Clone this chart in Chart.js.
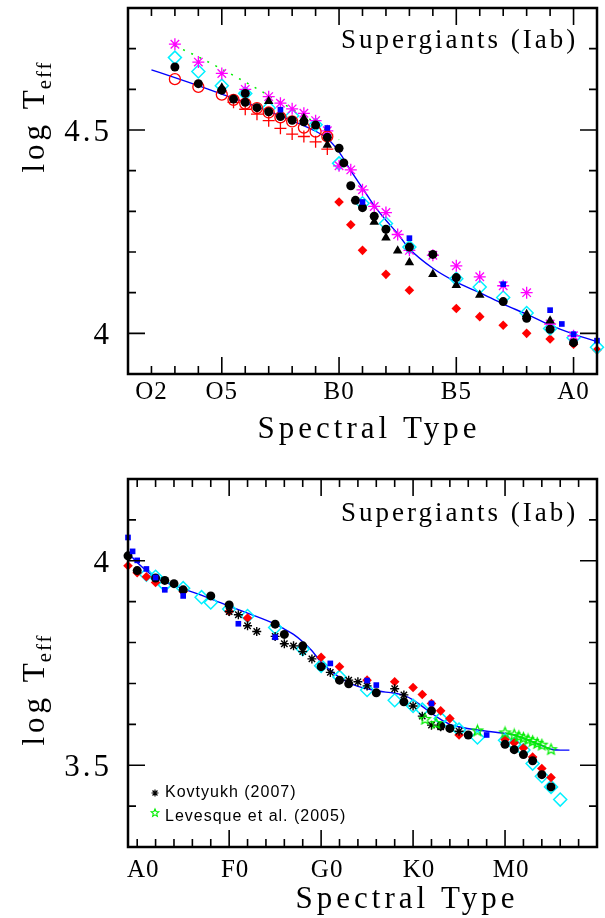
<!DOCTYPE html>
<html lang="en">
<head>
<meta charset="utf-8" />
<script src="https://cdn.jsdelivr.net/npm/chart.js@4.4.0/dist/chart.umd.min.js"></script>
<style>
  body { margin: 0; background: #fff; }
  #wrap { position: relative; width: 605px; height: 918px; }
  canvas { position: absolute; left: 0; }
</style>
<title>Supergiants (Iab)</title>
</head>
<body>
<div id="wrap">
  <canvas id="topChart" width="605" height="455" style="top:0"></canvas>
  <canvas id="bottomChart" width="605" height="463" style="top:455px"></canvas>
</div>
<script>
// spectral type as a number: top panel O0 = 0, B0 = 10, A0 = 20; bottom panel A0 = 0, F0 = 10, G0 = 20, K0 = 30, M0 = 40
const topTickPos = [2, 5, 10, 15, 20];
const topTickLabels = ['O2', 'O5', 'B0', 'B5', 'A0'];
const topYTickPos = [4, 4.5];
const topYTickLabels = ['4', '4.5'];
const bottomTickPos = [0, 10, 20, 30, 40];
const bottomTickLabels = ['A0', 'F0', 'G0', 'K0', 'M0'];
const bottomYTickPos = [3.5, 4];
const bottomYTickLabels = ['3.5', '4'];

// ---- top panel (O and B supergiants)
const topFitX = [2, 3, 4, 5, 6, 7, 8, 9, 9.5, 10, 10.5, 11, 11.5, 12, 12.5, 13, 14, 15, 16, 17, 18, 19, 20, 21];
const topFitY = [4.648, 4.629, 4.609, 4.588, 4.568, 4.546, 4.523, 4.497, 4.479, 4.446, 4.400, 4.357, 4.314, 4.278, 4.245, 4.208, 4.160, 4.126, 4.100, 4.072, 4.047, 4.020, 3.998, 3.980];
const topDashX = [3, 4, 5, 6, 7, 8, 9, 10];
const topDashY = [4.707, 4.680, 4.650, 4.618, 4.585, 4.552, 4.518, 4.476];
const topAstX = [3, 4, 5, 6, 7, 7.5, 8, 8.5, 9, 9.5, 10, 10.5, 11, 11.5, 12, 12.5, 13, 14, 15, 16, 17, 18, 19, 20];
const topAstY = [4.711, 4.667, 4.639, 4.600, 4.582, 4.566, 4.552, 4.541, 4.523, 4.498, 4.412, 4.402, 4.353, 4.312, 4.297, 4.243, 4.204, 4.192, 4.166, 4.139, 4.117, 4.100, 4.023, 3.994];
const topCyanX = [3, 4, 5, 6, 7, 8, 9, 10, 11, 12, 13, 15, 16, 17, 18, 19, 20, 21];
const topCyanY = [4.678, 4.644, 4.609, 4.590, 4.554, 4.535, 4.513, 4.418, 4.320, 4.270, 4.212, 4.134, 4.114, 4.088, 4.050, 4.012, 3.989, 3.966];
const topDotX = [3, 4, 5, 5.5, 6, 6, 6.5, 7, 7.5, 8, 8.5, 9, 9.5, 10, 10.2, 10.5, 10.7, 11, 11.5, 12, 13, 14, 15, 17, 18, 19, 20];
const topDotY = [4.655, 4.614, 4.598, 4.576, 4.590, 4.568, 4.555, 4.545, 4.533, 4.524, 4.520, 4.512, 4.482, 4.455, 4.419, 4.363, 4.327, 4.309, 4.288, 4.256, 4.212, 4.194, 4.137, 4.078, 4.037, 4.010, 3.977];
const topTriX = [5, 7, 8.5, 9.5, 11.5, 12, 12.5, 13, 14, 15, 16, 18, 19];
const topTriY = [4.604, 4.571, 4.529, 4.463, 4.274, 4.235, 4.203, 4.174, 4.145, 4.118, 4.094, 4.047, 4.031];
const topRingX = [3, 4, 5, 5.5, 6, 6.5, 7, 7.5, 8, 8.5, 9, 9.5];
const topRingY = [4.625, 4.606, 4.587, 4.574, 4.565, 4.554, 4.543, 4.531, 4.521, 4.506, 4.496, 4.484];
const topPlusX = [5.5, 6, 6.5, 7, 7.5, 8, 8.5, 9, 9.5];
const topPlusY = [4.568, 4.551, 4.539, 4.523, 4.504, 4.490, 4.484, 4.471, 4.453];
const topRedX = [10, 10.5, 11, 12, 13, 15, 16, 17, 18, 19, 20, 21];
const topRedY = [4.323, 4.267, 4.204, 4.145, 4.106, 4.061, 4.041, 4.020, 4.000, 3.986, 3.973, 3.959];
const topSqX = [7.5, 9.5, 11, 13, 17, 19, 19.5, 20, 21];
const topSqY = [4.550, 4.505, 4.323, 4.234, 4.121, 4.057, 4.023, 3.998, 3.982];

// ---- bottom panel (A to M supergiants)
const botFitX = [-1, 0, 2, 5, 8, 10, 12, 15, 16, 17, 18, 19, 20, 21, 22, 23, 24, 26, 28, 29, 30, 31, 32, 33, 34, 35, 37, 40, 41, 42, 43, 44, 45, 46, 47];
const botFitY = [4.020, 3.996, 3.959, 3.932, 3.907, 3.889, 3.872, 3.845, 3.833, 3.820, 3.802, 3.780, 3.752, 3.732, 3.715, 3.702, 3.693, 3.682, 3.676, 3.671, 3.660, 3.644, 3.627, 3.612, 3.600, 3.594, 3.586, 3.578, 3.574, 3.566, 3.557, 3.548, 3.539, 3.537, 3.537];
const botDotX = [-1, 0, 2, 3, 4, 5, 8, 10, 15, 16, 18, 20, 22, 23, 26, 29, 32, 33, 34, 36, 40, 41, 42, 43, 44, 45];
const botDotY = [4.012, 3.976, 3.958, 3.952, 3.944, 3.929, 3.914, 3.892, 3.845, 3.820, 3.792, 3.741, 3.708, 3.699, 3.677, 3.655, 3.633, 3.596, 3.590, 3.574, 3.551, 3.538, 3.526, 3.511, 3.477, 3.447];
const botKovX = [10, 11, 12, 13, 15, 16, 17, 18, 19, 21, 23, 24, 25, 28, 29, 30, 31, 32, 33, 35];
const botKovY = [3.876, 3.868, 3.841, 3.827, 3.815, 3.797, 3.792, 3.778, 3.760, 3.727, 3.708, 3.704, 3.694, 3.687, 3.672, 3.645, 3.620, 3.598, 3.594, 3.583];
const botSqX = [-1, -0.5, 0, 1, 2, 3, 5, 11, 15, 21, 25, 26, 32, 38];
const botSqY = [4.057, 4.023, 4.001, 3.980, 3.959, 3.929, 3.914, 3.846, 3.813, 3.749, 3.707, 3.696, 3.651, 3.574];
const botRedX = [-1, 0, 1, 2, 5, 10, 12, 20, 22, 25, 28, 30, 31, 32, 33, 34, 35, 40, 41, 42, 43, 44, 45];
const botRedY = [3.988, 3.971, 3.961, 3.947, 3.925, 3.876, 3.860, 3.764, 3.741, 3.708, 3.704, 3.690, 3.673, 3.651, 3.633, 3.614, 3.574, 3.563, 3.555, 3.542, 3.520, 3.492, 3.470];
const botCyanX = [1, 2, 3, 5, 7, 8, 10, 12, 15, 18, 20, 22, 25, 28, 30, 31, 33, 34, 35, 37, 40, 41, 42, 43, 44, 45, 46];
const botCyanY = [3.966, 3.961, 3.941, 3.933, 3.911, 3.898, 3.882, 3.865, 3.837, 3.784, 3.743, 3.716, 3.684, 3.659, 3.645, 3.636, 3.614, 3.602, 3.587, 3.568, 3.561, 3.551, 3.537, 3.504, 3.473, 3.447, 3.416];
const botLevX = [31.3, 32.5, 37, 40, 41, 41.5, 42, 42.5, 43, 43.5, 44, 45];
const botLevY = [3.612, 3.602, 3.584, 3.579, 3.574, 3.570, 3.566, 3.562, 3.558, 3.553, 3.549, 3.538];
const botLevLineX = [40, 41, 41.5, 42, 42.5, 43, 43.5, 44, 45];
const botLevLineY = [3.579, 3.574, 3.570, 3.566, 3.562, 3.558, 3.553, 3.549, 3.538];

const SERIF = '"Liberation Serif", "DejaVu Serif", serif';
const SANS = '"Liberation Sans", Arial, sans-serif';

function pts(xs, ys) {
  return xs.map((x, i) => ({ x: x, y: ys[i] }));
}

function starImage(color, r, lw) {
  const c = document.createElement('canvas');
  const s = Math.ceil(r * 2 + 4);
  c.width = s; c.height = s;
  const g = c.getContext('2d');
  g.strokeStyle = color; g.lineWidth = lw;
  g.beginPath();
  for (let i = 0; i < 10; i++) {
    const ang = -Math.PI / 2 + i * Math.PI / 5;
    const rr = i % 2 ? r * 0.45 : r;
    const px = s / 2 + rr * Math.cos(ang), py = s / 2 + rr * Math.sin(ang);
    if (i) g.lineTo(px, py); else g.moveTo(px, py);
  }
  g.closePath();
  g.stroke();
  return c;
}
const greenStar = starImage('#00ee00', 5.5, 1.3);

function marks(xs, ys, style) {
  return Object.assign({ data: pts(xs, ys), showLine: false, clip: false, borderWidth: 1.3 }, style);
}
function curve(xs, ys, style) {
  return Object.assign({ data: pts(xs, ys), showLine: true, pointRadius: 0, clip: false, fill: false }, style);
}

const framePlugin = {
  id: 'frame',
  afterDraw(chart, args, o) {
    const ctx = chart.ctx, a = chart.chartArea;
    const xs = chart.scales.x, ys = chart.scales.y;
    const near = (list, v) => list.some(m => Math.abs(m - v) < 1e-6);
    ctx.save();
    ctx.strokeStyle = '#000';
    ctx.lineWidth = 1.6;
    ctx.beginPath();
    for (let i = 0; ; i++) {
      const v = o.xStart + i * o.xStep;
      if (v > o.xEnd + 1e-6) break;
      const px = xs.getPixelForValue(v);
      const len = near(o.xMajor, v) ? 17 : 8;
      ctx.moveTo(px, a.bottom); ctx.lineTo(px, a.bottom - len);
      ctx.moveTo(px, a.top); ctx.lineTo(px, a.top + len);
    }
    for (let i = 0; ; i++) {
      const v = o.yStart + i * o.yStep;
      if (v > o.yEnd + 1e-6) break;
      const py = ys.getPixelForValue(v);
      const len = near(o.yMajor, v) ? 17 : 8;
      ctx.moveTo(a.left, py); ctx.lineTo(a.left + len, py);
      ctx.moveTo(a.right, py); ctx.lineTo(a.right - len, py);
    }
    ctx.stroke();
    ctx.lineWidth = 2.5;
    ctx.strokeRect(a.left, a.top, a.right - a.left, a.bottom - a.top);

    ctx.fillStyle = '#000';
    // x tick labels
    ctx.font = '25px ' + SERIF;
    ctx.letterSpacing = '1px';
    ctx.textAlign = 'center';
    ctx.textBaseline = 'alphabetic';
    o.xLabels.forEach((t, i) => ctx.fillText(t, xs.getPixelForValue(o.xLabelPos[i]) + o.xLabelDx, o.xLabelBase));
    // y tick labels
    ctx.font = '31px ' + SERIF;
    ctx.letterSpacing = '3px';
    ctx.textAlign = 'right';
    o.yLabels.forEach((t, i) => ctx.fillText(t, a.left - 16, ys.getPixelForValue(o.yLabelPos[i]) + 11));
    // x title
    ctx.font = '31px ' + SERIF;
    ctx.letterSpacing = '4px';
    ctx.textAlign = 'center';
    ctx.fillText('Spectral Type', o.xTitleX, o.xTitleBase);
    // y title, rotated
    ctx.save();
    ctx.translate(o.yTitleX, o.yTitleY);
    ctx.rotate(-Math.PI / 2);
    ctx.textAlign = 'left';
    ctx.font = '31px ' + SERIF;
    ctx.letterSpacing = '4px';
    const main = 'log T';
    const w1 = ctx.measureText(main).width;
    ctx.font = '21px ' + SERIF;
    ctx.letterSpacing = '2px';
    const w2 = ctx.measureText('eff').width;
    const start = -(w1 + w2) / 2;
    ctx.font = '31px ' + SERIF;
    ctx.letterSpacing = '4px';
    ctx.fillText(main, start, 0);
    ctx.font = '21px ' + SERIF;
    ctx.letterSpacing = '2px';
    ctx.fillText('eff', start + w1 - 3, 7);
    ctx.restore();
    // panel note
    ctx.font = '27px ' + SERIF;
    ctx.letterSpacing = '3px';
    ctx.textAlign = 'left';
    ctx.fillText('Supergiants (Iab)', o.noteX, o.noteBase);
    // legend
    if (o.legend) {
      ctx.font = '16px ' + SANS;
      ctx.letterSpacing = '1px';
      const lx = 155;
      // asterisk
      ctx.strokeStyle = '#000';
      ctx.lineWidth = 1.2;
      ctx.beginPath();
      for (let k = 0; k < 4; k++) {
        const ang = k * Math.PI / 4;
        ctx.moveTo(lx - 3.5 * Math.cos(ang), o.legendY1 - 4 - 3.5 * Math.sin(ang));
        ctx.lineTo(lx + 3.5 * Math.cos(ang), o.legendY1 - 4 + 3.5 * Math.sin(ang));
      }
      ctx.stroke();
      ctx.fillText('Kovtyukh (2007)', 165, o.legendY1);
      const sm = starImage('#00ee00', 4, 1.1);
      ctx.drawImage(sm, lx - sm.width / 2, o.legendY2 - 8 - sm.height / 2);
      ctx.fillText('Levesque et al. (2005)', 165, o.legendY2);
    }
    ctx.restore();
  }
};

function baseOptions(padding, xMin, xMax, yMin, yMax, frameOpts) {
  return {
    responsive: false,
    animation: false,
    layout: { padding: padding },
    plugins: { legend: { display: false }, tooltip: { enabled: false }, frame: frameOpts },
    scales: {
      x: { type: 'linear', min: xMin, max: xMax, display: false },
      y: { type: 'linear', min: yMin, max: yMax, display: false }
    },
    elements: { line: { tension: 0 } }
  };
}

new Chart(document.getElementById('topChart'), {
  type: 'scatter',
  data: {
    datasets: [
      marks(topSqX, topSqY, { pointStyle: 'rect', pointRadius: 4, backgroundColor: '#0000ff', borderColor: '#0000ff', borderWidth: 0 }),
      marks(topDotX, topDotY, { pointStyle: 'circle', pointRadius: 4.5, backgroundColor: '#000', borderColor: '#000', borderWidth: 0 }),
      marks(topTriX, topTriY, { pointStyle: 'triangle', pointRadius: 5.5, backgroundColor: '#000', borderColor: '#000', borderWidth: 0 }),
      marks(topRingX, topRingY, { pointStyle: 'circle', pointRadius: 5.5, backgroundColor: 'rgba(0,0,0,0)', borderColor: '#ff0000' }),
      marks(topAstX, topAstY, { pointStyle: 'star', pointRadius: 6, borderColor: '#ff00ff', borderWidth: 1.3 }),
      marks(topCyanX, topCyanY, { pointStyle: 'rectRot', pointRadius: 6.5, backgroundColor: 'rgba(0,0,0,0)', borderColor: '#00f0ff', borderWidth: 1.5 }),
      marks(topPlusX, topPlusY, { pointStyle: 'cross', pointRadius: 6, borderColor: '#ff0000', borderWidth: 1.3 }),
      marks(topRedX, topRedY, { pointStyle: 'rectRot', pointRadius: 4.8, backgroundColor: '#ff0000', borderColor: '#ff0000', borderWidth: 0 }),
      curve(topFitX, topFitY, { borderColor: '#0000ff', borderWidth: 1.4, cubicInterpolationMode: 'monotone' }),
      curve(topDashX, topDashY, { borderColor: '#00ee00', borderWidth: 1.5, borderDash: [2, 7] })
    ]
  },
  options: baseOptions({ left: 128, right: 7, top: 6, bottom: 81 }, 1, 21, 3.9, 4.8, {
    xStart: 1, xEnd: 21, xStep: 1, xMajor: [5, 10, 15, 20],
    yStart: 3.9, yEnd: 4.8, yStep: 0.1, yMajor: [4, 4.5],
    xLabels: topTickLabels, xLabelPos: topTickPos, xLabelDx: 0, xLabelBase: 399,
    yLabels: topYTickLabels, yLabelPos: topYTickPos,
    xTitleX: 369, xTitleBase: 438,
    yTitleX: 44, yTitleY: 115,
    noteX: 341, noteBase: 48,
    legend: false
  }),
  plugins: [framePlugin]
});

new Chart(document.getElementById('bottomChart'), {
  type: 'scatter',
  data: {
    datasets: [
      marks(botSqX, botSqY, { pointStyle: 'rect', pointRadius: 4, backgroundColor: '#0000ff', borderColor: '#0000ff', borderWidth: 0 }),
      marks(botLevX, botLevY, { pointStyle: greenStar }),
      marks(botDotX, botDotY, { pointStyle: 'circle', pointRadius: 4.5, backgroundColor: '#000', borderColor: '#000', borderWidth: 0 }),
      marks(botKovX, botKovY, { pointStyle: 'star', pointRadius: 4.5, borderColor: '#000', borderWidth: 1.4 }),
      marks(botRedX, botRedY, { pointStyle: 'rectRot', pointRadius: 4.8, backgroundColor: '#ff0000', borderColor: '#ff0000', borderWidth: 0 }),
      marks(botCyanX, botCyanY, { pointStyle: 'rectRot', pointRadius: 6.5, backgroundColor: 'rgba(0,0,0,0)', borderColor: '#00f0ff', borderWidth: 1.5 }),
      curve(botLevLineX, botLevLineY, { borderColor: '#00ee00', borderWidth: 1.3 }),
      curve(botFitX, botFitY, { borderColor: '#0000ff', borderWidth: 1.4, cubicInterpolationMode: 'monotone' })
    ]
  },
  options: baseOptions({ left: 128, right: 7, top: 24, bottom: 71 }, -1, 50, 3.3, 4.2, {
    xStart: 0, xEnd: 48, xStep: 2, xMajor: [10, 20, 30, 40],
    yStart: 3.3, yEnd: 4.2, yStep: 0.1, yMajor: [3.5, 4],
    xLabels: bottomTickLabels, xLabelPos: bottomTickPos, xLabelDx: 6, xLabelBase: 422,
    yLabels: bottomYTickLabels, yLabelPos: bottomYTickPos,
    xTitleX: 407, xTitleBase: 453,
    yTitleX: 44, yTitleY: 233,
    noteX: 341, noteBase: 66,
    legend: true, legendY1: 342, legendY2: 366
  }),
  plugins: [framePlugin]
});
</script>
</body>
</html>
